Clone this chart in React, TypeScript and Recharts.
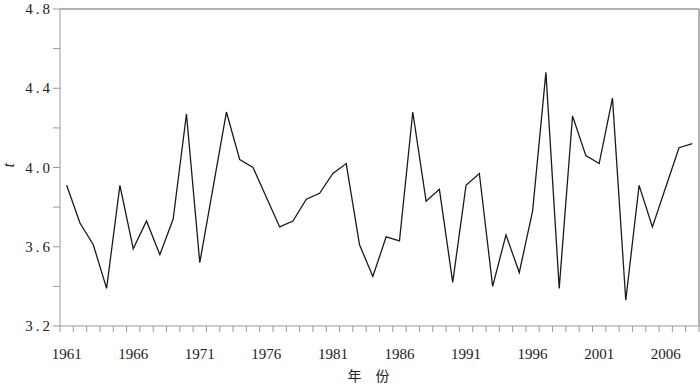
import React from "react";
import {
  LineChart,
  Line,
  XAxis,
  YAxis,
  ReferenceLine,
} from "recharts";

// years 1961..2008 and the t values
const years: number[] = [
  1961, 1962, 1963, 1964, 1965, 1966, 1967, 1968, 1969, 1970,
  1971, 1972, 1973, 1974, 1975, 1976, 1977, 1978, 1979, 1980,
  1981, 1982, 1983, 1984, 1985, 1986, 1987, 1988, 1989, 1990,
  1991, 1992, 1993, 1994, 1995, 1996, 1997, 1998, 1999, 2000,
  2001, 2002, 2003, 2004, 2005, 2006, 2007, 2008,
];

const tValues: number[] = [
  3.91, 3.72, 3.61, 3.39, 3.91, 3.59, 3.73, 3.56, 3.74, 4.27,
  3.52, 3.9, 4.28, 4.04, 4.0, 3.85, 3.7, 3.73, 3.84, 3.87,
  3.97, 4.02, 3.61, 3.45, 3.65, 3.63, 4.28, 3.83, 3.89, 3.42,
  3.91, 3.97, 3.4, 3.66, 3.47, 3.78, 4.48, 3.39, 4.26, 4.06,
  4.02, 4.35, 3.33, 3.91, 3.7, 3.9, 4.1, 4.12,
];

const yearLabels: number[] = [1961, 1966, 1971, 1976, 1981, 1986, 1991, 1996, 2001, 2006];
const yTicks: number[] = [3.2, 3.4, 3.6, 3.8, 4.0, 4.2, 4.4, 4.6, 4.8];
const yLabelled: number[] = [3.2, 3.6, 4.0, 4.4, 4.8];

const data = years.map((year, i) => ({ year, t: tValues[i] }));

// tick marks sit between the years, labels sit on the years
const boundaries = [...years.map((y) => y - 0.5), years[years.length - 1] + 0.5];
const xTicks = [...boundaries, ...yearLabels].sort((a, b) => a - b);

const axisGray = "#9a9a9a";
const serif = "Liberation Serif, DejaVu Serif, serif";

const XTick = (props: any) => {
  const { x, y, payload } = props;
  const v = payload.value;
  if (v % 1 !== 0) {
    return <line x1={x} x2={x} y1={y} y2={y + 6} stroke={axisGray} strokeWidth={1} />;
  }
  return (
    <text
      x={x}
      y={y + 33}
      textAnchor="middle"
      fill="#222"
      style={{ fontFamily: serif, fontSize: 15 }}
    >
      {v}
    </text>
  );
};

const YTick = (props: any) => {
  const { x, y, payload } = props;
  const v = payload.value;
  if (!yLabelled.some((l) => Math.abs(l - v) < 1e-6)) return <g />;
  return (
    <text
      x={x}
      y={y + 5}
      textAnchor="end"
      fill="#222"
      style={{ fontFamily: serif, fontSize: 15, letterSpacing: 3 }}
    >
      {v.toFixed(1)}
    </text>
  );
};

const App: React.FC = () => {
  return (
    <div style={{ position: "absolute", left: 0, top: 0, background: "#fff" }}>
      <LineChart
        width={700}
        height={385}
        data={data}
        margin={{ top: 9, right: 1, left: 0, bottom: 0 }}
      >
        <XAxis
          dataKey="year"
          type="number"
          domain={[1960.5, 2008.5]}
          ticks={xTicks}
          interval={0}
          tick={<XTick />}
          tickLine={false}
          tickSize={0}
          tickMargin={0}
          height={59}
          stroke={axisGray}
          label={{
            value: "年　份",
            position: "insideBottom",
            offset: 4,
            dx: -11,
            fill: "#222",
            style: { fontSize: 14, fontFamily: "Noto Sans CJK SC, sans-serif" },
          }}
        />
        <YAxis
          domain={[3.2, 4.8]}
          ticks={yTicks}
          interval={0}
          width={60}
          tickSize={7}
          tickMargin={0}
          stroke={axisGray}
          tick={<YTick />}
          label={{
            value: "t",
            angle: -90,
            position: "insideLeft",
            offset: 8,
            fill: "#222",
            style: { fontSize: 16, fontStyle: "italic", fontFamily: serif },
          }}
        />
        <ReferenceLine y={4.8} stroke={axisGray} strokeWidth={1.5} />
        <ReferenceLine x={2008.5} stroke={axisGray} strokeWidth={1.5} />
        <Line
          type="linear"
          dataKey="t"
          stroke="#1a1a1a"
          strokeWidth={1.3}
          dot={false}
          isAnimationActive={false}
        />
      </LineChart>
    </div>
  );
};

export default App;
